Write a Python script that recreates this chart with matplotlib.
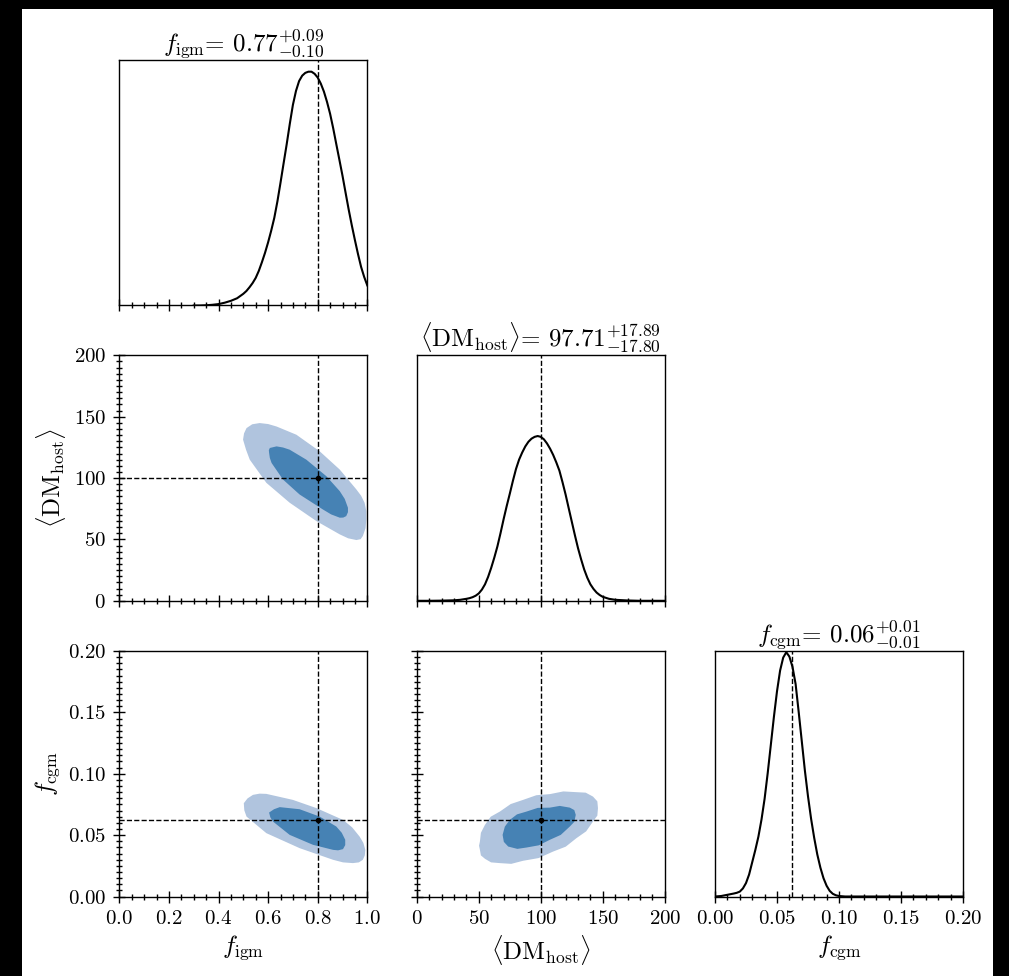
import matplotlib
matplotlib.use("Agg")
import matplotlib.pyplot as plt
from matplotlib.patches import Rectangle
from matplotlib.ticker import AutoMinorLocator, MultipleLocator

plt.rcParams["font.family"] = ["cmr10", "DejaVu Serif"]
plt.rcParams["mathtext.fontset"] = "cm"
plt.rcParams["axes.formatter.use_mathtext"] = True

LIGHT = "#b0c4de"
DARK = "#4682b4"
TICK_FS = 15
LABEL_FS = 18

# --- 1D marginals (relative density) ---
figm_x = [0.3000, 0.3250, 0.3500, 0.3750, 0.4000, 0.4250, 0.4500, 0.4750, 0.5000,
          0.5125, 0.5250, 0.5375, 0.5500, 0.5625, 0.5750, 0.5875, 0.6000, 0.6125,
          0.6250, 0.6375, 0.6500, 0.6625, 0.6750, 0.6875, 0.7000, 0.7125, 0.7250,
          0.7375, 0.7500, 0.7625, 0.7750, 0.7875, 0.8000, 0.8125, 0.8250, 0.8375,
          0.8500, 0.8625, 0.8750, 0.8875, 0.9000, 0.9125, 0.9250, 0.9375, 0.9500,
          0.9625, 0.9750, 0.9875, 1.0000]
figm_p = [0.000, 0.000, 0.001, 0.003, 0.006, 0.012, 0.020, 0.031, 0.050,
          0.062, 0.078, 0.096, 0.118, 0.148, 0.185, 0.225, 0.270, 0.320,
          0.375, 0.445, 0.525, 0.608, 0.690, 0.777, 0.858, 0.918, 0.960,
          0.983, 0.995, 1.000, 1.000, 0.991, 0.975, 0.949, 0.915, 0.871,
          0.820, 0.758, 0.690, 0.623, 0.555, 0.482, 0.410, 0.343, 0.280,
          0.220, 0.165, 0.122, 0.086]

dm_x = [0, 10, 20, 30, 35, 40, 42.5, 45, 47.5, 50, 52.5, 55, 57.5, 60, 62.5, 65,
        67.5, 70, 72.5, 75, 77.5, 80, 82.5, 85, 87.5, 90, 92.5, 95, 97.5, 100,
        102.5, 105, 107.5, 110, 112.5, 115, 117.5, 120, 122.5, 125, 127.5, 130,
        132.5, 135, 137.5, 140, 142.5, 145, 147.5, 150, 155, 160, 170, 180, 200]
dm_p = [0.000, 0.000, 0.001, 0.003, 0.006, 0.012, 0.016, 0.022, 0.031, 0.045,
        0.068, 0.100, 0.145, 0.200, 0.262, 0.330, 0.410, 0.495, 0.575, 0.650,
        0.728, 0.800, 0.857, 0.900, 0.937, 0.965, 0.984, 0.995, 1.000, 0.995,
        0.980, 0.955, 0.923, 0.885, 0.840, 0.790, 0.720, 0.645, 0.562, 0.480,
        0.398, 0.320, 0.252, 0.190, 0.140, 0.100, 0.072, 0.050, 0.035, 0.024,
        0.012, 0.006, 0.002, 0.000, 0.000]

fcgm_x = [0.000, 0.005, 0.010, 0.015, 0.0175, 0.020, 0.0225, 0.025, 0.0275, 0.030,
          0.0325, 0.035, 0.0375, 0.040, 0.0425, 0.045, 0.0475, 0.050, 0.0525,
          0.055, 0.0575, 0.060, 0.0625, 0.065, 0.0675, 0.070, 0.0725, 0.075,
          0.0775, 0.080, 0.0825, 0.085, 0.0875, 0.090, 0.0925, 0.095, 0.0975,
          0.100, 0.105, 0.200]
fcgm_p = [0.000, 0.002, 0.007, 0.012, 0.015, 0.020, 0.033, 0.055, 0.090, 0.140,
          0.190, 0.245, 0.315, 0.400, 0.505, 0.620, 0.735, 0.840, 0.925,
          0.978, 1.000, 0.982, 0.940, 0.870, 0.755, 0.635, 0.515, 0.410,
          0.318, 0.240, 0.172, 0.118, 0.075, 0.044, 0.023, 0.011, 0.005,
          0.002, 0.000, 0.000]

# --- 2D credible regions (boundaries) ---
figm_dm_outer_x = [0.566, 0.600, 0.634, 0.714, 0.808, 0.889, 0.956, 0.975, 0.989,
                   0.996, 0.996, 0.993, 0.982, 0.973, 0.956, 0.923, 0.889, 0.795,
                   0.687, 0.593, 0.526, 0.511, 0.499, 0.503, 0.513, 0.536]
figm_dm_outer_y = [144.8, 144.0, 142.0, 135.3, 121.8, 106.9, 90.7, 85.6, 79.9,
                   73.1, 66.3, 59.2, 52.8, 50.2, 49.5, 50.9, 54.1, 64.9,
                   79.9, 96.1, 115.0, 123.1, 131.3, 136.4, 140.7, 143.8]
figm_dm_inner_x = [0.607, 0.634, 0.660, 0.687, 0.754, 0.835, 0.889, 0.909, 0.922,
                   0.922, 0.915, 0.903, 0.889, 0.854, 0.821, 0.727, 0.660, 0.614,
                   0.607, 0.604, 0.603]
figm_dm_inner_y = [124.5, 125.8, 124.9, 123.1, 115.0, 101.5, 89.3, 83.0, 75.8,
                   72.2, 69.0, 67.8, 67.7, 70.4, 74.4, 86.6, 98.8, 112.3,
                   116.4, 120.5, 122.7]

figm_fcgm_outer_x = [0.502, 0.517, 0.539, 0.566, 0.593, 0.700, 0.795, 0.902, 0.939,
                     0.969, 0.984, 0.992, 0.990, 0.982, 0.966, 0.942, 0.902, 0.862,
                     0.727, 0.593, 0.513, 0.504]
figm_fcgm_outer_y = [0.0760, 0.0799, 0.0828, 0.0838, 0.0836, 0.0787, 0.0720, 0.0624,
                     0.0563, 0.0488, 0.0437, 0.0380, 0.0335, 0.0299, 0.0278, 0.0272,
                     0.0278, 0.0299, 0.0394, 0.0516, 0.0651, 0.0703]
figm_fcgm_inner_x = [0.604, 0.624, 0.647, 0.727, 0.808, 0.875, 0.897, 0.911, 0.911,
                     0.902, 0.882, 0.862, 0.781, 0.687, 0.620, 0.609]
figm_fcgm_inner_y = [0.0684, 0.0711, 0.0728, 0.0711, 0.0651, 0.0570, 0.0519, 0.0462,
                     0.0419, 0.0386, 0.0376, 0.0380, 0.0421, 0.0502, 0.0610, 0.0645]

dm_fcgm_outer_x = [50.9, 51.7, 55.0, 59.6, 67.0, 75.7, 85.7, 96.4, 107.3, 118.2,
                   128.7, 136.2, 142.1, 145.6, 146.1, 145.6, 142.1, 136.6, 128.7,
                   120.1, 109.9, 98.2, 85.7, 76.2, 67.0, 59.9, 55.0, 51.7, 50.9, 50.2]
dm_fcgm_outer_y = [0.0448, 0.0519, 0.0584, 0.0650, 0.0692, 0.0753, 0.0787, 0.0825,
                   0.0834, 0.0856, 0.0850, 0.0846, 0.0814, 0.0775, 0.0720, 0.0659,
                   0.0611, 0.0531, 0.0475, 0.0406, 0.0366, 0.0313, 0.0291, 0.0266,
                   0.0272, 0.0278, 0.0307, 0.0335, 0.0380, 0.0414]
dm_fcgm_inner_x = [69.2, 71.0, 75.0, 80.8, 88.5, 97.6, 107.3, 115.3, 123.4, 127.0,
                   128.2, 127.0, 123.4, 116.1, 107.3, 98.4, 88.5, 81.1, 73.7, 70.2]
dm_fcgm_inner_y = [0.0502, 0.0569, 0.0624, 0.0669, 0.0692, 0.0722, 0.0724, 0.0738,
                   0.0724, 0.0704, 0.0665, 0.0608, 0.0570, 0.0502, 0.0462, 0.0417,
                   0.0399, 0.0388, 0.0407, 0.0445]

truth_figm = 0.8
truth_dm = 100
truth_fcgm = 0.062

lab_figm = r"$f_{\rm igm}$"
lab_dm = r"$\langle {\rm DM_{host}} \rangle$"
lab_fcgm = r"$f_{\rm cgm}$"
title_figm = r"$f_{\rm igm}$= $0.77^{+0.09}_{-0.10}$"
title_dm = r"$\langle {\rm DM_{host}} \rangle$= $97.71^{+17.89}_{-17.80}$"
title_fcgm = r"$f_{\rm cgm}$= $0.06^{+0.01}_{-0.01}$"

W, H = 1009, 976
fig = plt.figure(figsize=(W / 100, H / 100), dpi=100, facecolor="black")
fig.patches.append(Rectangle((22 / W, 0), (993 - 22) / W, 1 - 9 / H,
                             transform=fig.transFigure, facecolor="white",
                             edgecolor="none", zorder=-10))

col_left = [119.3, 416.8, 715.0]
row_top = [60.0, 355.3, 651.0]
aw, ah = 248.0, 245.5


def make_ax(r, c):
    ax = fig.add_axes([col_left[c] / W, 1 - (row_top[r] + ah) / H, aw / W, ah / H])
    for s in ax.spines.values():
        s.set_linewidth(1.0)
    ax.tick_params(which="both", direction="inout", top=False, right=False,
                   width=1.0, labelsize=TICK_FS, pad=5)
    ax.tick_params(which="major", length=9)
    ax.tick_params(which="minor", length=4)
    ax.xaxis.set_minor_locator(AutoMinorLocator())
    ax.yaxis.set_minor_locator(AutoMinorLocator(10))
    return ax


lims = {"figm": (0, 1), "dm": (0, 200), "fcgm": (0, 0.2)}
majors = {"figm": 0.2, "dm": 50, "fcgm": 0.05}


def set_x(ax, key, labels=True):
    ax.set_xlim(*lims[key])
    ax.xaxis.set_major_locator(MultipleLocator(majors[key]))
    if not labels:
        ax.tick_params(axis="x", labelbottom=False)


def set_y(ax, key, labels=True):
    ax.set_ylim(*lims[key])
    ax.yaxis.set_major_locator(MultipleLocator(majors[key]))
    if not labels:
        ax.tick_params(axis="y", labelleft=False)


def diag(ax, x, p, truth, title, top):
    ax.plot(x, p, color="k", lw=1.5)
    ax.axvline(truth, color="k", ls="--", lw=1.0)
    ax.set_ylim(0, top)
    ax.set_yticks([])
    ax.yaxis.set_minor_locator(plt.NullLocator())
    ax.set_title(title, fontsize=LABEL_FS, pad=6)


def panel2d(ax, ox, oy, ix, iy, tx, ty):
    ax.fill(ox, oy, color=LIGHT, lw=0)
    ax.fill(ix, iy, color=DARK, lw=0)
    ax.axvline(tx, color="k", ls="--", lw=1.0)
    ax.axhline(ty, color="k", ls="--", lw=1.0)
    ax.plot([tx], [ty], "o", color="k", ms=3)


# row 0
ax = make_ax(0, 0)
diag(ax, figm_x, figm_p, truth_figm, title_figm, 1.05)
set_x(ax, "figm", labels=False)

# row 1
ax = make_ax(1, 0)
panel2d(ax, figm_dm_outer_x, figm_dm_outer_y, figm_dm_inner_x, figm_dm_inner_y,
        truth_figm, truth_dm)
set_x(ax, "figm", labels=False)
set_y(ax, "dm")
ax.set_ylabel(lab_dm, fontsize=LABEL_FS)

ax = make_ax(1, 1)
diag(ax, dm_x, dm_p, truth_dm, title_dm, 1.49)
set_x(ax, "dm", labels=False)

# row 2
ax = make_ax(2, 0)
panel2d(ax, figm_fcgm_outer_x, figm_fcgm_outer_y, figm_fcgm_inner_x,
        figm_fcgm_inner_y, truth_figm, truth_fcgm)
set_x(ax, "figm")
set_y(ax, "fcgm")
ax.set_xlabel(lab_figm, fontsize=LABEL_FS)
ax.set_ylabel(lab_fcgm, fontsize=LABEL_FS)

ax = make_ax(2, 1)
panel2d(ax, dm_fcgm_outer_x, dm_fcgm_outer_y, dm_fcgm_inner_x, dm_fcgm_inner_y,
        truth_dm, truth_fcgm)
set_x(ax, "dm")
set_y(ax, "fcgm", labels=False)
ax.set_xlabel(lab_dm, fontsize=LABEL_FS)

ax = make_ax(2, 2)
diag(ax, fcgm_x, fcgm_p, truth_fcgm, title_fcgm, 1.005)
set_x(ax, "fcgm")
ax.set_xlabel(lab_fcgm, fontsize=LABEL_FS)

fig.savefig("out.png", dpi=100, facecolor=fig.get_facecolor())
